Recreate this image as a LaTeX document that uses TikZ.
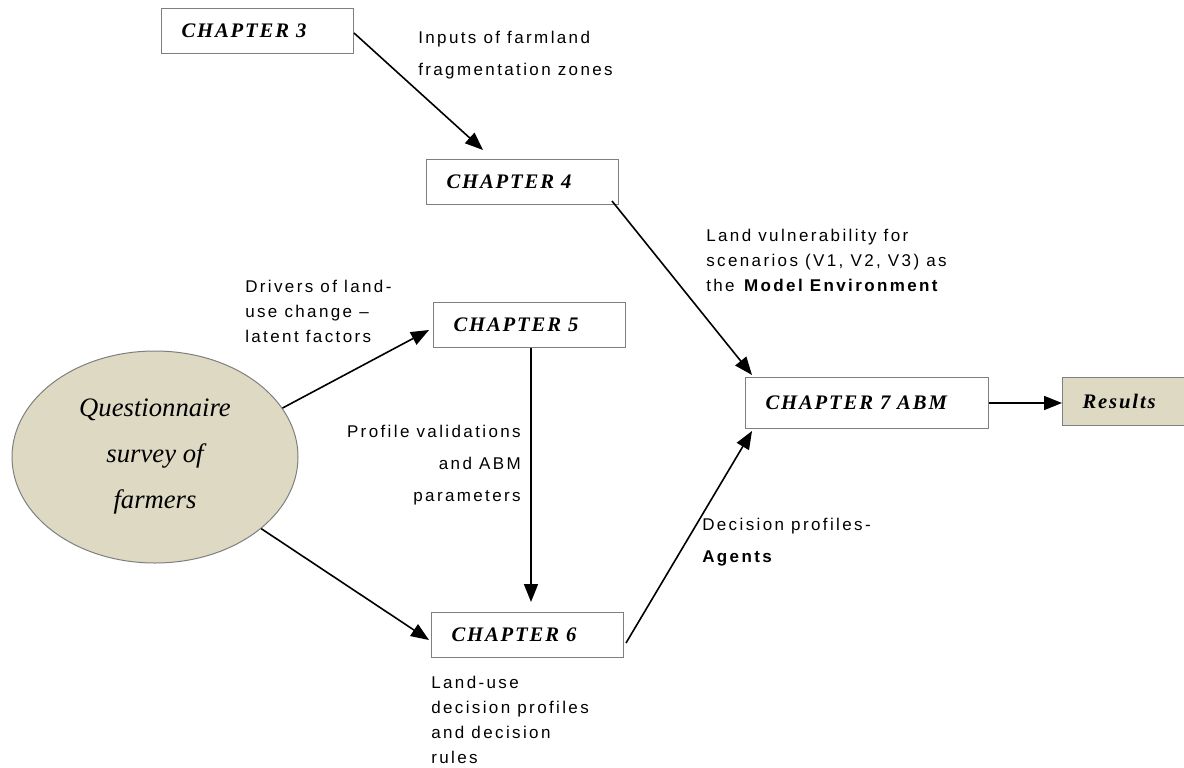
\documentclass[tikz,border=0pt]{standalone}
\usepackage{fontspec}
\setmainfont{Liberation Serif}
\setsansfont{Liberation Sans}
\newfontfamily\chapfont[LetterSpace=9]{Liberation Serif}
\newfontfamily\notefont[LetterSpace=14]{Liberation Sans}
\usetikzlibrary{arrows.meta,calc,shapes.geometric}
\definecolor{boxgray}{HTML}{7F7F7F}
\definecolor{bgtan}{HTML}{DDD9C3}
\tikzset{
  chapbox/.style={draw=boxgray, line width=0.75pt, anchor=north west, inner xsep=15pt, inner ysep=0pt,
    text width=114pt, minimum height=33.75pt, align=left,
    font=\chapfont\fontsize{15.5}{18}\selectfont\bfseries\itshape},
  note/.style={inner sep=0pt, align=left, font=\notefont\fontsize{12.75}{18.75}\selectfont},
  widenote/.style={note, font=\notefont\fontsize{12.75}{24}\selectfont},
  flow/.style={line width=1.2pt, -{Triangle[length=13.5pt,width=10.5pt]}}
}
\begin{document}
\begin{tikzpicture}[x=0.75pt,y=0.75pt,yscale=-1,xscale=1]
\useasboundingbox (0,0) rectangle (1184,767);

%Shape: Ellipse
\node (survey) [ellipse, draw=boxgray, line width=0.75pt, fill=bgtan, minimum width=214.5pt, minimum height=159pt, inner sep=0pt, align=center, font=\rmfamily\fontsize{20}{34.5}\selectfont\itshape] at (155,457) {Questionnaire\\survey of\\farmers};

%Shape: Rectangle
\node (ch3) [chapbox] at (161,8) {CHAPTER 3};
%Shape: Rectangle
\node (ch4) [chapbox] at (426,159) {CHAPTER 4};
%Shape: Rectangle
\node (ch5) [chapbox] at (433,302) {CHAPTER 5};
%Shape: Rectangle
\node (ch6) [chapbox] at (431,612) {CHAPTER 6};
%Shape: Rectangle
\node (ch7) [chapbox, text width=152.25pt, minimum height=38.25pt] at (745,377) {CHAPTER 7 ABM};
%Shape: Rectangle
\node (res) [chapbox, fill=bgtan, text width=66pt, minimum height=36pt] at (1062,377) {Results};

%Straight Lines
\draw [flow] ($(ch3.east)+(0,2)$) -- ($(ch4.north west)+(57,-9)$);
\draw [flow] ($(ch4.south east)+(-7,-4)$) -- ($(ch7.north west)+(7,-2)$);
\draw [flow] (survey.21) -- ($(ch5.west)+(-4,5)$);
\draw [flow] (survey.-34) -- ($(ch6.west)+(-2,5)$);
\draw [flow] ($(ch5.south west)+(98,0)$) -- ($(ch6.north west)+(100,-10)$);
\draw [flow] ($(ch6.east)+(2,8)$) -- ($(ch7.south west)+(7,2)$);
\draw [flow] (ch7.east) -- (ch7.east -| res.west);

% Text Node
\node (inputs) [widenote, anchor=north west] at (418,31) {Inputs of farmland\\fragmentation zones};
% Text Node
\node (vuln) [note, anchor=north west] at (706,229) {Land vulnerability for\\scenarios (V1, V2, V3) as\\the \textbf{Model Environment}};
% Text Node
\node (drivers) [note, anchor=north west] at (245,280) {Drivers of land-\\use change –\\latent factors};
% Text Node
\node (valid) [widenote, anchor=north east, align=right] at (521,425) {Profile validations\\and ABM\\parameters};
% Text Node
\node (agents) [widenote, anchor=north west] at (702,518) {Decision profiles-\\\textbf{Agents}};
% Text Node
\node (rules) [note, anchor=north west] at (431,676) {Land-use\\decision profiles\\and decision\\rules};

\end{tikzpicture}
\end{document}
